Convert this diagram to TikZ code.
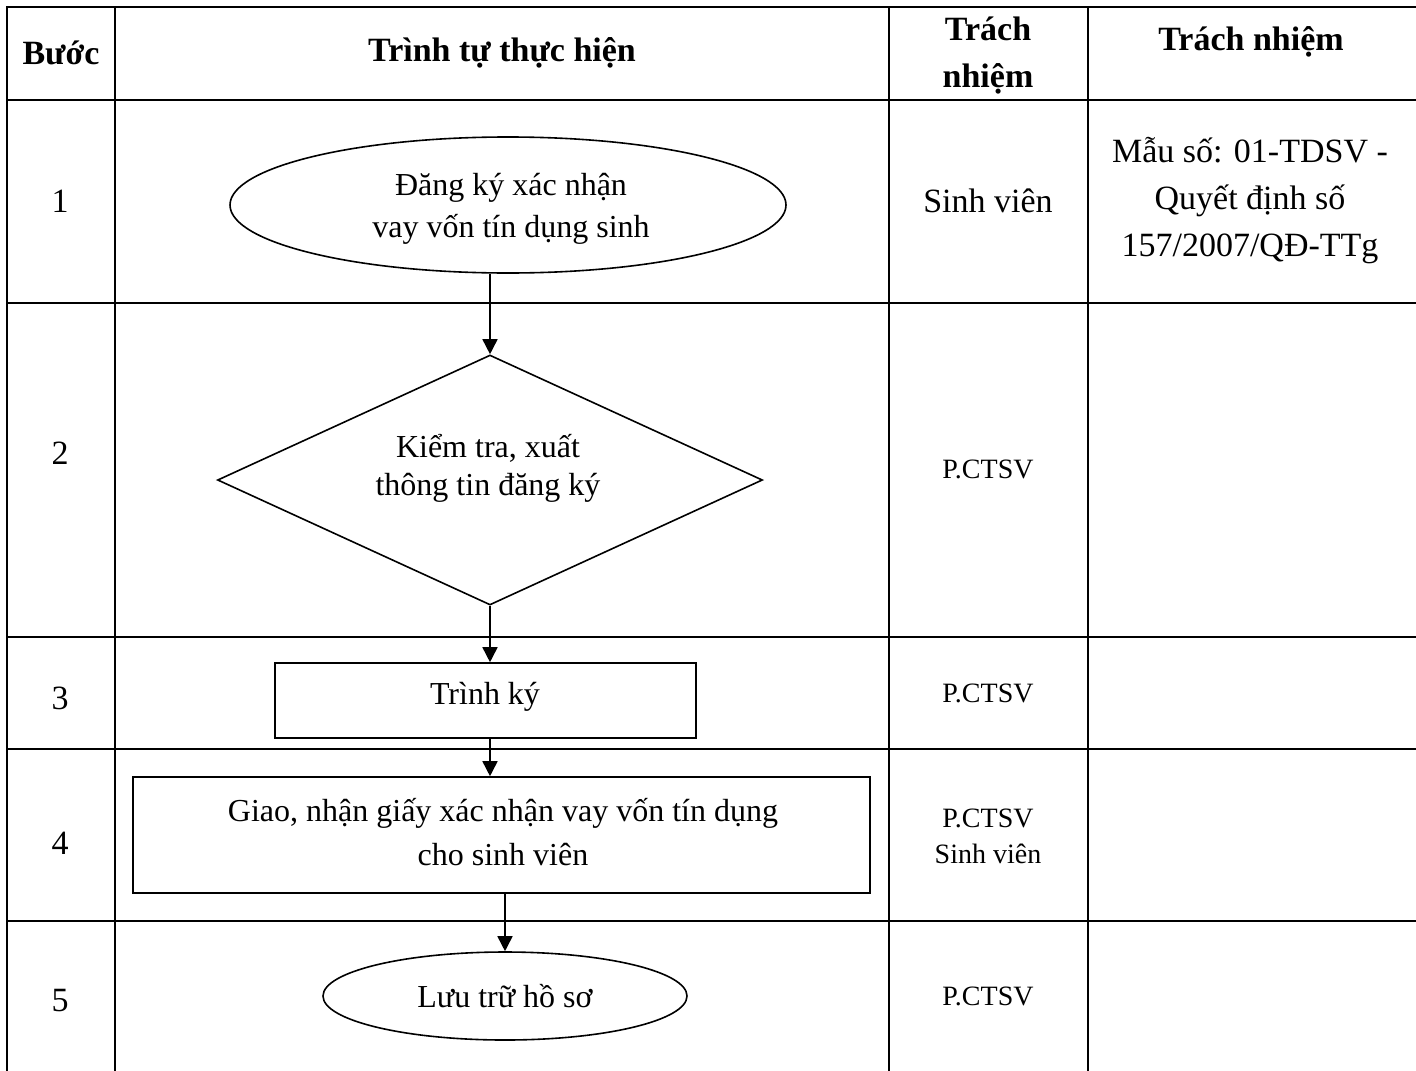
\documentclass[tikz,border=0pt]{standalone}
\usepackage{fontspec}
\setmainfont{Liberation Serif}
\usetikzlibrary{shapes.geometric,arrows.meta}
\begin{document}
\begin{tikzpicture}[x=0.5pt,y=-0.5pt,
  gridline/.style={line width=1pt,line cap=rect},
  shp/.style={draw,line width=0.8pt,inner sep=0pt,align=center,font=\fontsize{16}{21}\selectfont},
  arr/.style={-{Triangle[length=7.5pt,width=7.5pt]},line width=0.8pt},
  hd/.style={font=\fontsize{17}{23.5}\selectfont\bfseries,align=center,inner sep=0pt},
  bd/.style={font=\fontsize{17}{23.5}\selectfont,align=center,inner sep=0pt},
  sm/.style={font=\fontsize{14}{18}\selectfont,align=center,inner sep=0pt}]
\useasboundingbox (0,0) rectangle (1416,1070);
% table grid
\draw[gridline] (7,7) -- (1416,7);
\foreach \yy in {100,303,637,749,921} \draw[gridline] (7,\yy) -- (1416,\yy);
\foreach \xx in {7,115,889,1088} \draw[gridline] (\xx,7) -- (\xx,1070);
% header
\node[hd] (hB) at (61,53) {Bước};
\node[hd] (hT) at (502,53) {Trình tự thực hiện};
\node[hd] (hR) at (988,56) {Trách\\nhiệm};
\node[hd] (hR2) at (1251,42) {Trách nhiệm};
% step numbers
\node[bd] (n1) at (60,201) {1};
\node[bd] (n2) at (60,453) {2};
\node[bd] (n3) at (60,698) {3};
\node[bd] (n4) at (60,843) {4};
\node[bd] (n5) at (60,1001) {5};
% responsibility
\node[bd] (r1) at (988,201) {Sinh viên};
\node[sm] (r2) at (988,469) {P.CTSV};
\node[sm] (r3) at (988,693) {P.CTSV};
\node[sm] (r4) at (988,836) {P.CTSV\\Sinh viên};
\node[sm] (r5) at (988,996) {P.CTSV};
% documents
\node[bd] (m1) at (1250,201) {Mẫu số: 01-TDSV -\\Quyết định số\\157/2007/QĐ-TTg};
% flowchart
\node[shp,ellipse,minimum width=278pt,minimum height=68pt] (e1) at (508,205) {};
\node[align=center,font=\fontsize{16}{21}\selectfont,inner sep=0pt] (t1) at (511,209) {Đăng ký xác nhận\\ vay vốn tín dụng sinh};
\node[shp,diamond,minimum width=272.5pt,minimum height=125pt] (d2) at (490,480) {};
\node[align=center,font=\fontsize{16}{19}\selectfont,inner sep=0pt] (t2) at (488,468) {Kiểm tra, xuất\\ thông tin đăng ký};
\node[shp,rectangle,minimum width=210.5pt,minimum height=37.5pt] (b3) at (485.5,700.5) {};
\node[font=\fontsize{16}{21}\selectfont,inner sep=0pt] (t3) at (485,697) {Trình ký};
\node[shp,rectangle,minimum width=368.5pt,minimum height=58pt,font=\fontsize{16}{22}\selectfont] (b4) at (501.5,835) {};
\node[align=center,font=\fontsize{16}{22}\selectfont,inner sep=0pt] (t4) at (503,832) {Giao, nhận giấy xác nhận vay vốn tín dụng\\ cho sinh viên};
\node[shp,ellipse,minimum width=182pt,minimum height=44pt] (e5) at (505,996) {Lưu trữ hồ sơ};
% connectors
\draw[arr] (e1.south -| d2.north) -- (d2.north);
\draw[arr] (d2.south) -- (d2.south |- b3.north);
\draw[arr] (b3.south -| d2.south) -- (b4.north -| d2.south);
\draw[arr] (b4.south -| e5.north) -- (e5.north);
\end{tikzpicture}
\end{document}
